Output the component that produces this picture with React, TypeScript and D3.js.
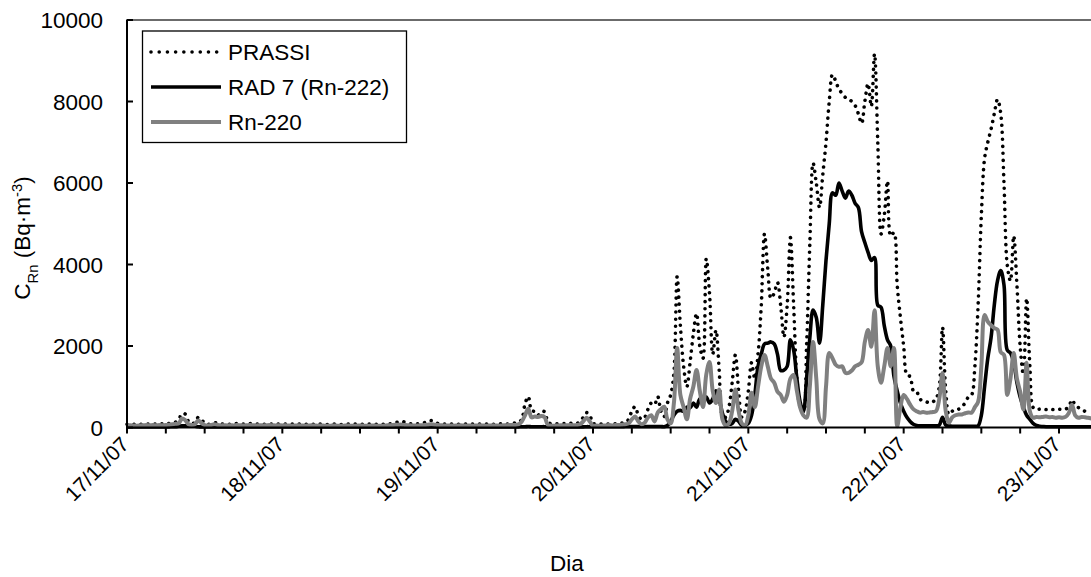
import React from 'react';
import * as d3 from 'd3';

// Half-hourly radon concentrations (Bq·m-3) starting 17/11/07 00:00
const START = new Date(2007, 10, 17, 0, 0, 0);
const STEP_MINUTES = 30;

const prassi = [
  80, 75, 80, 70, 80, 75, 85, 80, 90, 80,
  85, 90, 80, 100, 110, 130, 200, 340, 330, 150,
  100, 120, 250, 200, 100, 80, 90, 120, 100, 80,
  90, 85, 80, 90, 100, 90, 85, 90, 95, 90,
  85, 90, 80, 85, 90, 85, 80, 85, 90, 85,
  80, 85, 80, 85, 90, 80, 85, 80, 75, 80,
  85, 80, 75, 80, 85, 80, 75, 80, 85, 80,
  80, 85, 80, 75, 80, 85, 80, 80, 75, 80,
  85, 90, 100, 120, 140, 150, 120, 100, 90, 85,
  90, 100, 120, 150, 170, 140, 100, 90, 85, 90,
  85, 90, 80, 85, 90, 85, 80, 85, 90, 85,
  80, 85, 90, 80, 85, 90, 85, 80, 90, 100,
  110, 130, 200, 580, 760, 420, 390, 300, 390, 390,
  150, 90, 85, 90, 100, 95, 90, 100, 110, 100,
  150, 250, 365, 300, 100, 90, 80, 90, 80, 90,
  100, 90, 100, 110, 120, 200, 400, 510, 300, 200,
  250, 450, 600, 560, 760, 400, 270, 600, 800, 1340,
  3700, 2500, 1500, 1000, 1600, 2300, 2800, 2000, 1700, 4140,
  3300, 1800, 2390, 1400, 300, 250, 500, 1100, 1780, 900,
  250, 400, 900, 1590, 1200, 1800, 3000, 4750, 3900, 3170,
  3300, 3560, 3000, 2220, 3000, 4660, 3000, 1200, 500, 370,
  2000, 4500, 6490, 6000, 5400, 6200, 7000, 8000, 8660, 8500,
  8300, 8200, 8100, 8050, 8000, 7900, 7700, 7460, 8000, 8440,
  7880, 9170, 7000, 4750, 5200, 6050, 4700, 4780, 3500, 2700,
  2000, 1290, 1250, 900, 880, 700, 650, 630, 600, 630,
  700, 1000, 2460, 900, 320, 400, 450, 450, 520, 600,
  750, 800, 1500, 3000, 5200, 6600, 7000, 7320, 7700, 8050,
  7700, 6000, 4000, 3600, 4700, 3500, 2000, 1300, 3170, 1500,
  490, 440, 450, 430, 440, 420, 440, 430, 450, 440,
  450, 500, 680, 550, 490, 450, 400, 390, 380,
];

const rad7 = [
  15, 15, 15, 15, 15, 15, 15, 15, 15, 15,
  15, 15, 15, 15, 20, 20, 30, 40, 40, 40,
  40, 30, 20, 15, 15, 15, 15, 15, 15, 15,
  15, 15, 15, 15, 15, 15, 15, 15, 15, 15,
  15, 15, 15, 15, 15, 15, 15, 15, 15, 15,
  15, 15, 15, 15, 15, 15, 15, 15, 15, 15,
  15, 15, 15, 15, 15, 15, 15, 15, 15, 15,
  15, 15, 15, 15, 15, 15, 15, 15, 15, 15,
  15, 15, 15, 15, 15, 15, 15, 15, 15, 15,
  15, 15, 15, 15, 15, 15, 15, 15, 15, 15,
  15, 15, 15, 15, 15, 15, 15, 15, 15, 15,
  15, 15, 15, 15, 15, 15, 15, 15, 15, 15,
  15, 15, 20, 20, 25, 20, 20, 20, 20, 20,
  15, 15, 15, 15, 15, 15, 15, 15, 15, 15,
  15, 15, 20, 20, 20, 20, 20, 20, 20, 20,
  20, 20, 20, 20, 25, 25, 25, 25, 25, 25,
  25, 25, 25, 25, 25, 25, 20, 50, 150, 300,
  400, 420, 400, 500, 480, 600, 500, 700, 650, 750,
  600, 700, 900, 700, 350, 150, 80, 100, 200, 150,
  50, 50, 100, 300, 800, 1500, 1800, 2050, 2070, 2100,
  2050, 1800, 1400, 1410, 1500, 2150, 1900, 1200, 630, 390,
  1200, 2200, 2880, 2700, 2070, 3000, 4100, 5000, 5760, 5700,
  6000, 5800, 5630, 5800, 5700, 5500, 5400, 4800, 4540, 4300,
  4100, 4170, 3000, 2950, 2500, 2150, 2000, 1250, 900, 600,
  400, 250, 150, 80, 50, 40, 40, 40, 40, 40,
  40, 60, 250, 60, 40, 30, 30, 30, 30, 30,
  30, 30, 30, 40, 300, 1000, 1700, 2200, 3000, 3600,
  3850, 3500, 1900, 1830, 1600, 1100, 750, 500, 300, 200,
  100, 50, 30, 25, 20, 20, 20, 20, 20, 20,
  20, 20, 20, 20, 20, 20, 20, 20, 20,
];

const rn220 = [
  50, 55, 50, 45, 50, 55, 60, 55, 60, 55,
  60, 55, 60, 70, 80, 90, 100, 220, 180, 80,
  60, 80, 170, 110, 60, 50, 60, 80, 60, 50,
  55, 50, 55, 50, 60, 55, 50, 55, 60, 55,
  50, 55, 50, 55, 60, 55, 50, 55, 50, 55,
  50, 45, 50, 55, 50, 45, 50, 55, 50, 45,
  50, 45, 40, 45, 50, 45, 40, 45, 50, 45,
  40, 45, 50, 45, 40, 45, 50, 45, 40, 45,
  50, 55, 60, 65, 70, 70, 60, 55, 50, 50,
  50, 55, 60, 70, 80, 70, 60, 55, 50, 50,
  50, 45, 50, 55, 50, 45, 50, 45, 50, 55,
  50, 45, 50, 55, 50, 45, 50, 55, 60, 60,
  60, 80, 150, 300, 460, 250, 270, 260, 280, 260,
  70, 50, 45, 50, 55, 50, 55, 60, 55, 60,
  80, 150, 240, 150, 40, 50, 40, 50, 50, 60,
  50, 60, 60, 70, 80, 100, 200, 270, 150, 80,
  120, 250, 300, 150, 365, 450, 510, 200, 100, 600,
  1950, 800, 500, 200, 700, 1000, 1410, 900, 500, 1300,
  1610, 900, 600, 930, 200, 50, 100, 400, 930, 400,
  100, 50, 300, 850, 500, 1000, 1500, 1780, 1500, 1200,
  1100, 880, 800, 630, 800, 1200, 1290, 900, 490, 300,
  240, 1000, 2100, 1200, 200, 100, 1000, 1830, 1700, 1540,
  1490, 1500, 1340, 1340, 1400, 1500, 1540, 1600, 2100, 2390,
  1980, 2880, 1500, 1100, 1500, 1950, 1500, 1950, 30, 500,
  800, 700, 560, 450, 400, 365, 380, 360, 370, 380,
  400, 700, 1340, 400, 120, 250, 300, 320, 320, 350,
  370, 365, 500, 630, 1500, 2760, 2600, 2510, 2440, 2400,
  1850, 1780, 800, 1200, 1830, 1200, 880, 440, 1590, 400,
  240, 260, 250, 260, 270, 250, 260, 240, 250, 240,
  260, 350, 560, 300, 240, 260, 250, 240, 220,
];

const dayLabels = ['17/11/07', '18/11/07', '19/11/07', '20/11/07', '21/11/07', '22/11/07', '23/11/07'];
const yTickValues = [0, 2000, 4000, 6000, 8000, 10000];
const seriesNames = ['PRASSI', 'RAD 7 (Rn-222)', 'Rn-220'];

const W = 1091;
const H = 577;
const FONT = 'Liberation Sans, Arial, sans-serif';
const FS = 22.5;
const FS_DATE = 21;

type Pt = { t: Date; v: number };

const toPoints = (vals: number[]): Pt[] =>
  vals.map((v, i) => ({ t: new Date(START.getTime() + i * STEP_MINUTES * 60000), v }));

export default function App() {
  const dayStart = START;
  const dayEnd = d3.timeDay.offset(START, dayLabels.length - 1);

  const x = d3.scaleTime().domain([dayStart, dayEnd]).range([127, 1059]);
  const y = d3.scaleLinear().domain([0, 10000]).range([427.5, 20]);

  const line = d3
    .line<Pt>()
    .x((d) => x(d.t))
    .y((d) => y(d.v))
    .curve(d3.curveCatmullRom.alpha(0.5));

  const sixHourTicks = d3.timeHour
    .every(6)!
    .range(dayStart, d3.timeDay.offset(dayEnd, 1))
    .filter((d) => x(d) <= W);

  const days = dayLabels.map((label, i) => ({ label, t: d3.timeDay.offset(dayStart, i) }));

  const styles = [
    { stroke: '#000', width: 3.6, dash: '0.01 7', cap: 'round' as const },
    { stroke: '#000', width: 3.6, dash: undefined, cap: 'butt' as const },
    { stroke: '#808080', width: 4, dash: undefined, cap: 'butt' as const },
  ];
  const data = [prassi, rad7, rn220].map(toPoints);

  const legendX = 142.5;
  const legendY = 31;
  const rowYs = [52, 87, 122];

  return (
    <svg
      width={W}
      height={H}
      style={{ position: 'absolute', left: 0, top: 0, display: 'block', background: '#fff' }}
      fontFamily={FONT}
    >
      {/* plot frame top edge */}
      <line x1={127} x2={W} y1={y(10000)} y2={y(10000)} stroke="#3a3a3a" strokeWidth={1.5} />

      {/* series */}
      {data.map((pts, k) => (
        <path
          key={seriesNames[k]}
          d={line(pts) || ''}
          fill="none"
          stroke={styles[k].stroke}
          strokeWidth={styles[k].width}
          strokeDasharray={styles[k].dash}
          strokeLinecap={styles[k].cap}
          strokeLinejoin="round"
        />
      ))}

      {/* y axis */}
      <line x1={127} x2={127} y1={y(10000) - 0.5} y2={y(0) + 1} stroke="#000" strokeWidth={2} />
      {yTickValues.map((v) => (
        <g key={v}>
          <line x1={127} x2={133} y1={y(v)} y2={y(v)} stroke="#000" strokeWidth={2} />
          <text x={103} y={y(v)} dy="0.36em" textAnchor="end" fontSize={FS} fill="#000">
            {v}
          </text>
        </g>
      ))}

      {/* x axis */}
      <line x1={126} x2={W} y1={y(0)} y2={y(0)} stroke="#000" strokeWidth={2} />
      {sixHourTicks.map((t) => (
        <line key={+t} x1={x(t)} x2={x(t)} y1={y(0)} y2={y(0) + 6} stroke="#000" strokeWidth={2} />
      ))}
      {days.map((d) => (
        <text
          key={d.label}
          transform={`translate(${x(d.t) - 2},${y(0) + 13}) rotate(-45)`}
          textAnchor="end"
          dy="0.36em"
          fontSize={FS_DATE}
          fill="#000"
        >
          {d.label}
        </text>
      ))}

      {/* axis titles */}
      <text x={567} y={571} textAnchor="middle" fontSize={FS} fill="#000">
        Dia
      </text>
      <text transform={`translate(30,${238}) rotate(-90)`} textAnchor="middle" fontSize={FS} fill="#000">
        C<tspan baselineShift="sub" fontSize={FS * 0.66}>Rn</tspan>
        <tspan> (Bq·m</tspan>
        <tspan baselineShift="super" fontSize={FS * 0.66}>-3</tspan>
        <tspan>)</tspan>
      </text>

      {/* legend */}
      <rect x={legendX} y={legendY} width={264} height={111.5} fill="#fff" stroke="#000" strokeWidth={1.3} />
      {seriesNames.map((name, k) => (
        <g key={name}>
          <line
            x1={151}
            x2={221}
            y1={rowYs[k]}
            y2={rowYs[k]}
            stroke={styles[k].stroke}
            strokeWidth={styles[k].width}
            strokeDasharray={k === 0 ? '0.01 8.2' : undefined}
            strokeLinecap={styles[k].cap}
          />
          <text x={228} y={rowYs[k]} dy="0.36em" fontSize={FS} fill="#000">
            {name}
          </text>
        </g>
      ))}
    </svg>
  );
}
